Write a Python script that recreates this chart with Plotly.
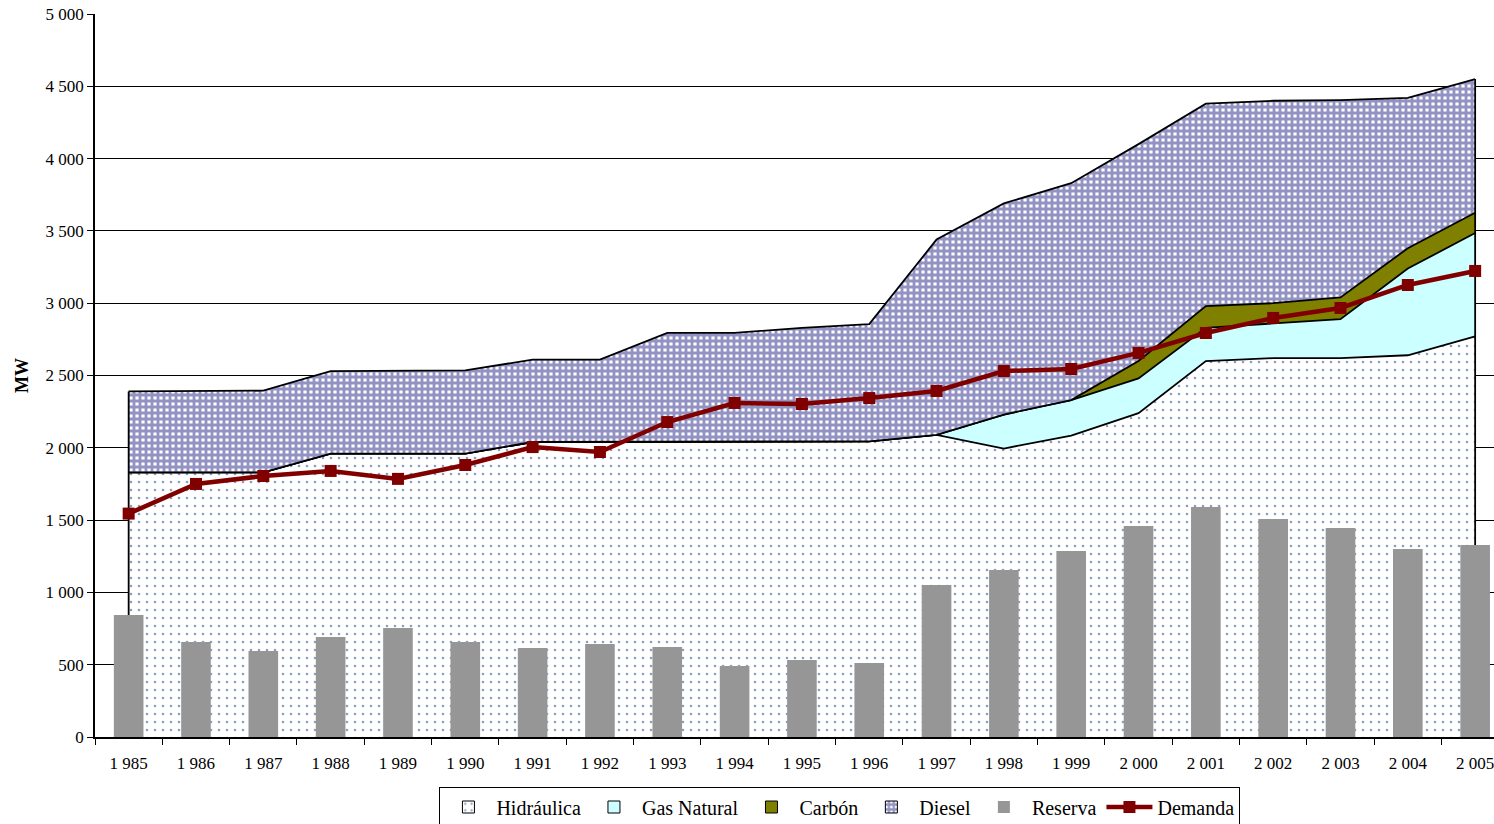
import plotly.graph_objects as go

years = list(range(1985, 2006))
labels = [f"{y // 1000} {y % 1000:03d}" for y in years]

hidraulica = [1830, 1830, 1830, 1960, 1960, 1960, 2040, 2040, 2040, 2040, 2045,
              2045, 2090, 1995, 2085, 2240, 2600, 2620, 2620, 2640, 2770]
gas_natural = [0, 0, 0, 0, 0, 0, 0, 0, 0, 0, 0,
               0, 0, 235, 245, 240, 230, 240, 270, 600, 715]
carbon = [0, 0, 0, 0, 0, 0, 0, 0, 0, 0, 0,
          0, 0, 0, 0, 120, 150, 140, 150, 140, 140]
diesel = [560, 565, 565, 570, 570, 575, 570, 570, 755, 755, 785,
          810, 1350, 1460, 1500, 1500, 1400, 1400, 1365, 1040, 925]
reserva = [844, 657, 595, 692, 754, 657, 615, 643, 622, 491, 532,
           512, 1051, 1155, 1286, 1459, 1591, 1508, 1445, 1300, 1328]
demanda = [1545, 1750, 1805, 1840, 1785, 1881, 2005, 1971, 2178, 2310, 2303,
           2344, 2393, 2531, 2545, 2656, 2794, 2898, 2967, 3126, 3223]

y_ticks = list(range(0, 5001, 500))

FONT = "Liberation Serif, Times New Roman, serif"
total = [a + b + c + d for a, b, c, d in zip(hidraulica, gas_natural, carbon, diesel)]

dots = dict(shape=".", bgcolor="white", fgcolor="#163F80", size=8, solidity=0.09)
grid = dict(shape="+", bgcolor="white", fgcolor="#262688", size=6, solidity=0.72)
line_k = dict(color="black", width=1.8)

fig = go.Figure()

# stacked areas (legend handled by proxy entries below)
fig.add_trace(go.Scatter(x=labels, y=hidraulica, name="Hidráulica", stackgroup="a",
                         mode="lines", line=line_k, fillcolor="white", fillpattern=dots,
                         showlegend=False))
fig.add_trace(go.Scatter(x=labels, y=gas_natural, name="Gas Natural", stackgroup="a",
                         mode="lines", line=line_k, fillcolor="#CCFFFF", showlegend=False))
fig.add_trace(go.Scatter(x=labels, y=carbon, name="Carbón", stackgroup="a",
                         mode="lines", line=line_k, fillcolor="#808000", showlegend=False))
fig.add_trace(go.Scatter(x=labels, y=diesel, name="Diesel", stackgroup="a",
                         mode="lines", line=line_k, fillcolor="white", fillpattern=grid,
                         showlegend=False))
# vertical edges of the stacked area
fig.add_trace(go.Scatter(
    x=[labels[0], labels[0], None, labels[-1], labels[-1]],
    y=[0, total[0], None, 0, total[-1]],
    mode="lines", line=line_k, showlegend=False, hoverinfo="skip",
))

# legend proxies (boxed swatches)
box = dict(color="black", width=1)
fig.add_trace(go.Bar(x=[None], y=[None], name="Hidráulica",
                     marker=dict(color="white", line=box, pattern=dots)))
fig.add_trace(go.Bar(x=[None], y=[None], name="Gas Natural",
                     marker=dict(color="#CCFFFF", line=box)))
fig.add_trace(go.Bar(x=[None], y=[None], name="Carbón",
                     marker=dict(color="#808000", line=box)))
fig.add_trace(go.Bar(x=[None], y=[None], name="Diesel",
                     marker=dict(color="white", line=box, pattern=grid)))

fig.add_trace(go.Bar(
    x=labels, y=reserva, name="Reserva", marker=dict(color="#969696", line=dict(width=0)),
    width=0.44, yaxis="y2",
))
fig.add_trace(go.Scatter(
    x=labels, y=demanda, name="Demanda", mode="lines+markers", yaxis="y2",
    line=dict(color="#800000", width=4.5),
    marker=dict(symbol="square", size=12, color="#800000"),
))

fig.update_layout(
    width=1494, height=824,
    margin=dict(l=95, r=0, t=14, b=87),
    paper_bgcolor="white", plot_bgcolor="white",
    font=dict(family=FONT, size=17, color="black"),
    separators=", ",
    barmode="overlay",
    showlegend=True,
    legend=dict(
        orientation="h", xref="container", yref="container",
        x=0.5622, xanchor="center", y=0.0455, yanchor="top",
        bordercolor="black", borderwidth=1, bgcolor="white",
        font=dict(family=FONT, size=20), traceorder="normal",
        itemwidth=46, tracegroupgap=0,
    ),
    xaxis=dict(
        type="category", categoryarray=labels, range=[-0.5, 20.28],
        showline=True, linecolor="black", linewidth=1.5,
        ticks="outside", tickson="boundaries", ticklen=6, tickcolor="black",
        showgrid=False, tickfont=dict(size=17), ticklabelstandoff=10,
    ),
    yaxis=dict(
        range=[0, 5000], tickvals=y_ticks, tickformat=",d",
        showline=True, linecolor="black", linewidth=1.5,
        ticks="outside", ticklen=6, tickcolor="black",
        showgrid=True, gridcolor="black", gridwidth=1,
        zeroline=False, tickfont=dict(size=17),
        title=dict(text="<b>MW</b>", font=dict(size=18), standoff=12),
    ),
    yaxis2=dict(
        range=[0, 5000], overlaying="y", visible=False, showgrid=False, zeroline=False,
    ),
)

fig.write_html("out.html", config={"displayModeBar": False},
               post_script="document.body.style.margin='0';")
